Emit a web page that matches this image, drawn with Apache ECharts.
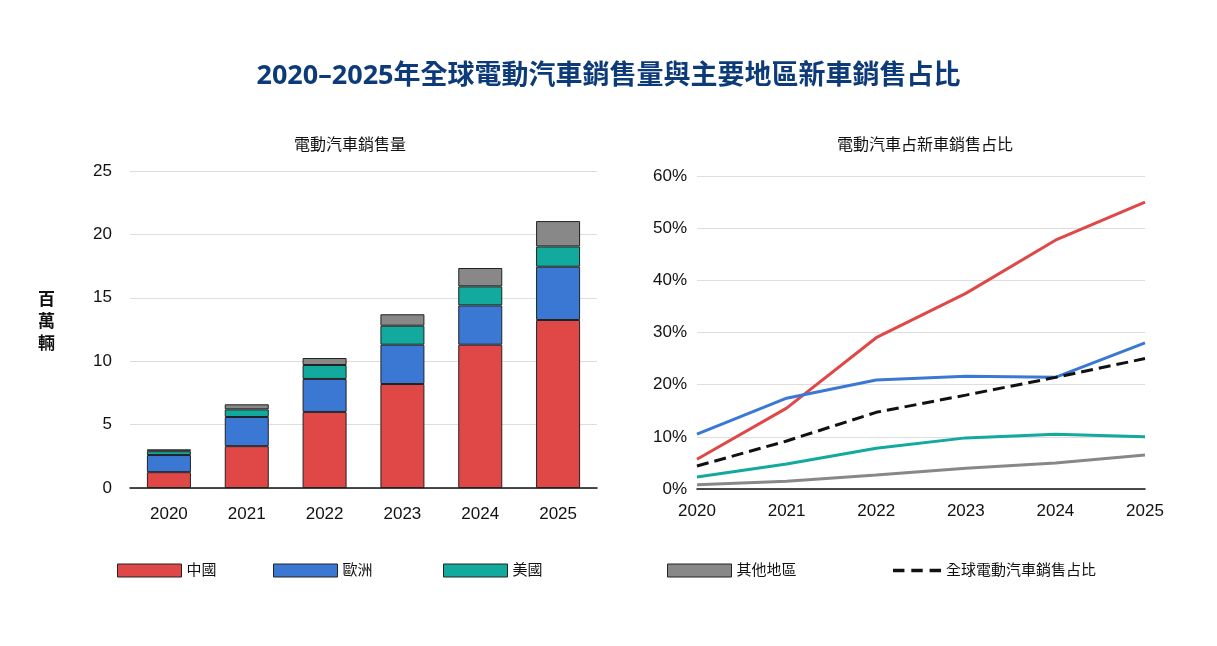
<!DOCTYPE html><html><head><meta charset="utf-8"><script src="https://cdn.jsdelivr.net/npm/echarts@6/dist/echarts.min.js"></script></head><body style="margin:0;background:#fff"><div id="c" style="width:1217px;height:646px"></div><script>
const years=['2020','2021','2022','2023','2024','2025'];
const chinaSales=[1.25,3.3,6.0,8.2,11.3,13.25];
const europeSales=[1.35,2.3,2.6,3.1,3.1,4.2];
const usSales=[0.3,0.6,1.1,1.5,1.5,1.6];
const otherSales=[0.15,0.4,0.55,0.9,1.45,2.0];
const chinaShare=[5.7,15.5,29,37.5,47.7,55];
const europeShare=[10.5,17.4,20.9,21.6,21.4,28];
const usShare=[2.3,4.8,7.8,9.8,10.5,10];
const otherShare=[0.8,1.5,2.7,4,5,6.5];
const globalShare=[4.4,9.2,14.7,18,21.4,25];
const C={cn:'#e04848',eu:'#3a78d4',us:'#12a99e',ot:'#888888'};
const F='"Liberation Sans","Noto Sans CJK TC",sans-serif';
const TF='"Noto Sans","Noto Sans CJK TC",sans-serif';
const ch=echarts.init(document.getElementById('c'));
const bar=(n,d,c)=>({name:n,type:'bar',stack:'s',data:d,barWidth:44,itemStyle:{color:c,borderColor:'#222',borderWidth:1}});
const line=(n,d,c,t)=>({name:n,type:'line',xAxisIndex:1,yAxisIndex:1,data:d,symbol:'none',lineStyle:{color:c,width:3,type:t||'solid'},itemStyle:{color:c}});
const L=(l,n)=>({left:l,top:558,data:[{name:n,icon:'rect'}],itemWidth:64,itemHeight:13,itemStyle:{borderColor:'#222',borderWidth:1},textStyle:{fontFamily:F,fontSize:15,color:'#111'}});
ch.setOption({textStyle:{fontFamily:F},
title:[{text:'2020–2025年全球電動汽車銷售量與主要地區新車銷售占比',left:'center',top:58,textStyle:{fontFamily:TF,fontSize:27,fontWeight:'bold',color:'#0d3a78'}},
{text:'電動汽車銷售量',left:345,top:133,textAlign:'center',textStyle:{fontFamily:F,fontSize:16,fontWeight:'normal',color:'#111'}},
{text:'電動汽車占新車銷售占比',left:920,top:133,textAlign:'center',textStyle:{fontFamily:F,fontSize:16,fontWeight:'normal',color:'#111'}}],
graphic:[{type:'text',left:38,top:288,style:{text:'百\n萬\n輛',font:'bold 17px "Noto Sans CJK TC"',fill:'#111',lineHeight:22}}],
legend:[L(112,'中國'),L(268,'歐洲'),L(438,'美國'),L(662,'其他地區'),
{left:888,top:558,data:[{name:'全球電動汽車銷售占比',icon:'path://M0,0H10V3H0ZM16,0H26V3H16ZM32,0H42V3H32Z'}],itemWidth:48,itemHeight:4,textStyle:{fontFamily:F,fontSize:15,color:'#111'}}],
grid:[{left:130,right:620,top:171,bottom:158},{left:697,right:72,top:176,bottom:157}],
xAxis:[{type:'category',data:years,gridIndex:0,axisLine:{lineStyle:{color:'#111',width:1.5}},axisTick:{show:false},axisLabel:{fontSize:17,color:'#111',margin:18}},
{type:'category',data:years,gridIndex:1,boundaryGap:false,axisLine:{lineStyle:{color:'#111',width:1.5}},axisTick:{show:false},axisLabel:{fontSize:17,color:'#111',margin:14}}],
yAxis:[{type:'value',gridIndex:0,min:0,max:25,interval:5,axisLabel:{fontSize:17,color:'#111',margin:18},splitLine:{lineStyle:{color:'#ddd'}}},
{type:'value',gridIndex:1,min:0,max:60,interval:10,axisLabel:{fontSize:17,color:'#111',formatter:'{value}%',margin:10},splitLine:{lineStyle:{color:'#ddd'}}}],
series:[bar('中國',chinaSales,C.cn),bar('歐洲',europeSales,C.eu),bar('美國',usSales,C.us),bar('其他地區',otherSales,C.ot),
line('中國',chinaShare,C.cn),line('歐洲',europeShare,C.eu),line('美國',usShare,C.us),line('其他地區',otherShare,C.ot),
line('全球電動汽車銷售占比',globalShare,'#111','dashed')]});
</script></body></html>
